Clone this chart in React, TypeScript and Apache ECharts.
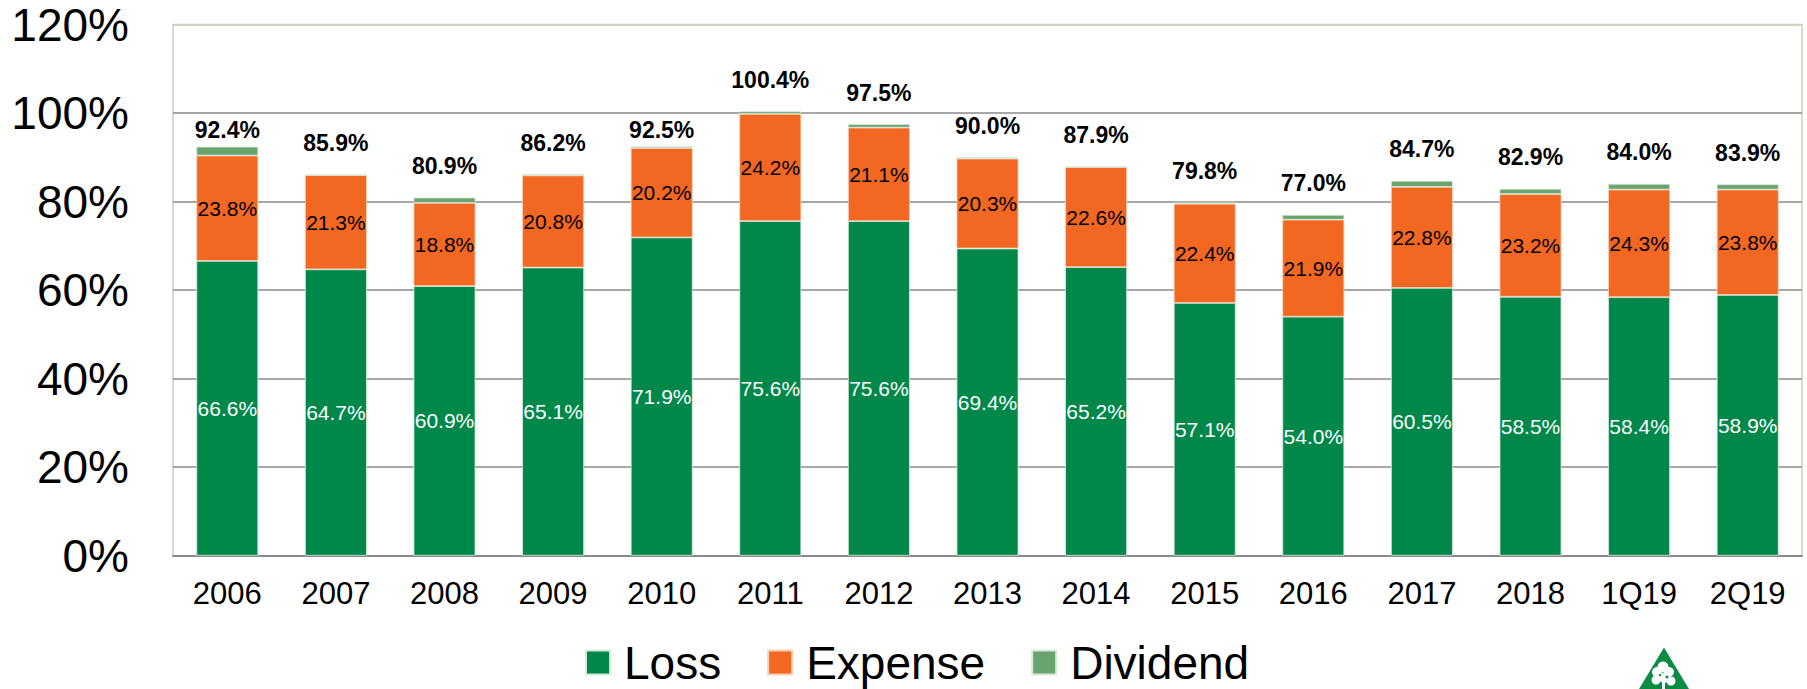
import React, { useEffect, useRef } from "react";
import * as echarts from "echarts";

const categories = ["2006", "2007", "2008", "2009", "2010", "2011", "2012", "2013", "2014", "2015", "2016", "2017", "2018", "1Q19", "2Q19"];
const loss = [66.6, 64.7, 60.9, 65.1, 71.9, 75.6, 75.6, 69.4, 65.2, 57.1, 54.0, 60.5, 58.5, 58.4, 58.9];
const expense = [23.8, 21.3, 18.8, 20.8, 20.2, 24.2, 21.1, 20.3, 22.6, 22.4, 21.9, 22.8, 23.2, 24.3, 23.8];
const dividend = [2.0, 0, 1.2, 0.3, 0.4, 0.6, 0.8, 0.3, 0.1, 0.3, 1.1, 1.4, 1.2, 1.3, 1.2];
const totals = [92.4, 85.9, 80.9, 86.2, 92.5, 100.4, 97.5, 90.0, 87.9, 79.8, 77.0, 84.7, 82.9, 84.0, 83.9];
const yTicks = { min: 0, max: 120, interval: 20 };

const FONT = "'Liberation Sans', Arial, Helvetica, sans-serif";

export default function App() {
  const ref = useRef<HTMLDivElement>(null);
  useEffect(() => {
    if (!ref.current) return;
    const chart = echarts.init(ref.current, undefined, { renderer: "svg" });
    const fmt = (v: number) => v.toFixed(1) + "%";
    // totals labels sit higher above the bars, except where they would cross the 100% gridline
    const lowered = new Set(["2006", "2010"]);
    const dividendData = dividend.map((v, i) =>
      lowered.has(categories[i]) ? { value: v, label: { distance: 5 } } : v
    );
    chart.setOption({
      animation: false,
      backgroundColor: "#ffffff",
      textStyle: { fontFamily: FONT },
      grid: {
        left: 173,
        right: 5,
        top: 24.5,
        bottom: 133.3,
        show: true,
        borderColor: "#c9d0bd",
        borderWidth: 1.5,
      },
      legend: {
        left: 585,
        top: 637.5,
        padding: 0,
        itemWidth: 24,
        itemHeight: 24,
        itemGap: 46,
        icon: "rect",
        data: ["Loss", "Expense", "Dividend"],
        textStyle: {
          fontFamily: FONT,
          fontSize: 46,
          lineHeight: 50,
          color: "#000",
          padding: [0, 0, 0, 9],
        },
      },
      xAxis: {
        type: "category",
        data: categories,
        axisTick: { show: false },
        axisLine: { lineStyle: { color: "#8a8a8a", width: 2 } },
        axisLabel: { color: "#000", fontSize: 31, margin: 22, fontFamily: FONT },
      },
      yAxis: {
        type: "value",
        min: yTicks.min,
        max: yTicks.max,
        interval: yTicks.interval,
        axisLine: { show: false },
        axisTick: { show: false },
        axisLabel: { color: "#000", fontSize: 46, margin: 44, fontFamily: FONT, formatter: (v: number) => v + "%" },
        splitLine: {
          lineStyle: {
            color: ["#8a8a8a", "#8a8a8a", "#8a8a8a", "#8a8a8a", "#8a8a8a", "#8a8a8a", "#c9d0bd"],
            width: 1.5,
          },
        },
      },
      series: [
        {
          name: "Loss",
          type: "bar",
          stack: "total",
          barWidth: "57%",
          data: loss,
          itemStyle: { color: "#00874a", borderColor: "#d9ead9", borderWidth: 0.8 },
          label: { show: true, position: "inside", color: "#ffffff", fontSize: 21, fontFamily: FONT, formatter: (p: any) => fmt(p.value) },
        },
        {
          name: "Expense",
          type: "bar",
          stack: "total",
          data: expense,
          itemStyle: { color: "#f26722", borderColor: "#f7d0b8", borderWidth: 0.8 },
          label: { show: true, position: "inside", color: "#000000", fontSize: 21, fontFamily: FONT, formatter: (p: any) => fmt(p.value) },
        },
        {
          name: "Dividend",
          type: "bar",
          stack: "total",
          data: dividendData,
          itemStyle: { color: "#69a36d", borderColor: "#d9ead9", borderWidth: 0.8 },
          label: {
            show: true,
            position: "top",
            distance: 20,
            color: "#000000",
            fontSize: 23,
            fontWeight: "bold",
            fontFamily: FONT,
            formatter: (p: any) => fmt(totals[p.dataIndex]),
          },
        },
      ],
      graphic: [
        {
          type: "polygon",
          shape: { points: [[1664, 647.5], [1630, 704], [1698, 704]] },
          style: { fill: "#0b8c45" },
          silent: true,
        },
        { type: "circle", shape: { cx: 1663, cy: 667, r: 5.5 }, style: { fill: "#ffffff" }, silent: true },
        { type: "circle", shape: { cx: 1657, cy: 672, r: 5 }, style: { fill: "#ffffff" }, silent: true },
        { type: "circle", shape: { cx: 1669, cy: 672, r: 5 }, style: { fill: "#ffffff" }, silent: true },
        { type: "circle", shape: { cx: 1656, cy: 680, r: 4.5 }, style: { fill: "#ffffff" }, silent: true },
        { type: "circle", shape: { cx: 1664, cy: 678, r: 5 }, style: { fill: "#ffffff" }, silent: true },
        { type: "circle", shape: { cx: 1671, cy: 681, r: 4.5 }, style: { fill: "#ffffff" }, silent: true },
        { type: "rect", shape: { x: 1662, y: 682, width: 3, height: 8 }, style: { fill: "#ffffff" }, silent: true },
        { type: "circle", shape: { cx: 1667, cy: 677, r: 1.5 }, style: { fill: "#0b8c45" }, silent: true },
        { type: "circle", shape: { cx: 1660, cy: 675, r: 1.2 }, style: { fill: "#0b8c45" }, silent: true },
      ],
    });
    return () => chart.dispose();
  }, []);
  return <div ref={ref} style={{ position: "fixed", left: 0, top: 0, width: 1807, height: 689 }} />;
}
